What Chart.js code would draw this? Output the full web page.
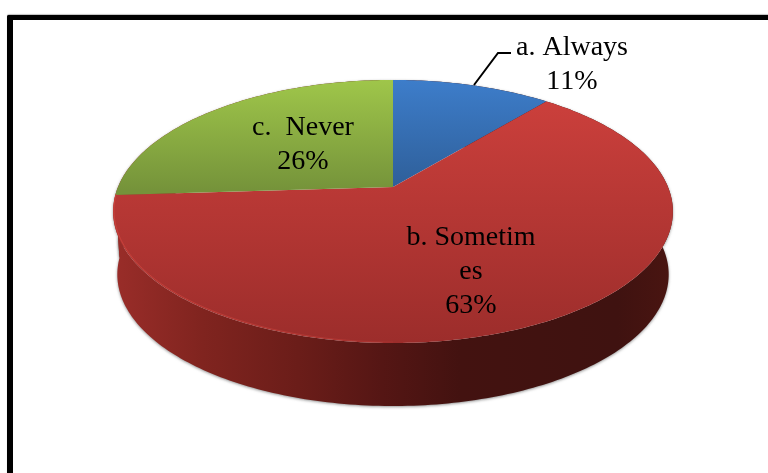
<!DOCTYPE html>
<html>
<head>
<meta charset="utf-8">
<title>Pie</title>
<script src="https://cdn.jsdelivr.net/npm/chart.js@4/dist/chart.umd.min.js"></script>
<style>
  html, body { margin: 0; padding: 0; background: #fff; overflow: hidden; }
  #wrap { position: relative; width: 768px; height: 473px; }
  #frame {
    position: absolute; left: 7px; top: 15px; right: -10px; bottom: -10px;
    border-left: 6px solid #000; border-top: 5px solid #000;
    border-top-left-radius: 2px; box-shadow: 0 -1px 1px rgba(0,0,0,.25);
  }
  canvas { position: absolute; left: 0; top: 0; }
</style>
</head>
<body>
<div id="wrap">
  <div id="frame"></div>
  <canvas id="pieChart" width="768" height="473"></canvas>
</div>
<script>
var CATEGORIES = ["a. Always", "b. Sometimes", "c.  Never"];
var LABEL_LINES = [["a. Always"], ["b. Sometim", "es"], ["c.  Never"]];
var VALUES = [11, 63, 26];
var COLORS = ["#3a76c0", "#b83835", "#8aad42"];

// top face: vertical gradient, one pair of colours per slice
var FACE_STOPS = [
  ["#3d7dca", "#2e5e98"],
  ["#cf413d", "#9c2d2b"],
  ["#9fc64a", "#75933a"]
];
// where each label block is centred, first baseline in px
var LABEL_POS = [[572, 55], [471, 245], [303, 135]];

// tilted disc: perspective factor and scale of the unit circle
var PERSP = 0.186, SCALE_X = 275 / 187, SCALE_Y = 127 / 187;
var DEPTH = 63, STEP = Math.PI / 180;

function project(arc, a, drop, shrink) {
  var x = Math.cos(a), y = Math.sin(a), w = 1 - PERSP * y;
  var s = shrink || 1;
  return {
    x: arc.x + arc.outerRadius * SCALE_X * s * x / w,
    y: arc.y + arc.outerRadius * SCALE_Y * y / w + (drop || 0)
  };
}

function rimPath(ctx, arc, from, to, drop, shrink) {
  var n = Math.ceil(Math.abs(to - from) / STEP);
  for (var i = 0; i <= n; i++) {
    var p = project(arc, from + (to - from) * i / n, drop, shrink);
    ctx.lineTo(p.x, p.y);
  }
}

function drawSide(ctx, arc) {
  var grad = ctx.createLinearGradient(113, 0, 673, 0);
  grad.addColorStop(0, "#9a2d29");
  grad.addColorStop(0.16, "#80241f");
  grad.addColorStop(0.33, "#6b1d19");
  grad.addColorStop(0.48, "#551614");
  grad.addColorStop(0.62, "#431210");
  grad.addColorStop(0.9, "#3f1210");
  grad.addColorStop(1, "#4a1511");
  ctx.save();
  ctx.shadowColor = "rgba(60,60,60,.55)";
  ctx.shadowBlur = 3;
  ctx.shadowOffsetY = 1;
  ctx.fillStyle = grad;
  ctx.beginPath();
  rimPath(ctx, arc, arc.startAngle, arc.endAngle, 0, 1);
  rimPath(ctx, arc, arc.endAngle, arc.startAngle, DEPTH, 0.985);
  ctx.closePath();
  ctx.fill();
  ctx.restore();
}

function drawFace(ctx, arc, stops) {
  var grad = ctx.createLinearGradient(0, 80, 0, stops === FACE_STOPS[1] ? 343 : 190);
  grad.addColorStop(0, stops[0]);
  grad.addColorStop(1, stops[1]);
  ctx.fillStyle = grad;
  ctx.beginPath();
  ctx.moveTo(arc.x, arc.y);
  rimPath(ctx, arc, arc.startAngle, arc.endAngle, 0, 1);
  ctx.closePath();
  ctx.fill();
}

// lighter bevel along the front edge, fades out towards the right
function drawBevel(ctx, arc) {
  var grad = ctx.createLinearGradient(113, 0, 440, 0);
  grad.addColorStop(0, "rgba(212,70,62,.7)");
  grad.addColorStop(0.7, "rgba(205,66,60,.45)");
  grad.addColorStop(1, "rgba(200,60,55,0)");
  ctx.save();
  ctx.strokeStyle = grad;
  ctx.lineWidth = 1;
  ctx.beginPath();
  rimPath(ctx, arc, Math.PI * 0.5, Math.PI * 0.98, -1, 0.997);
  ctx.stroke();
  ctx.restore();
}

var pie3d = {
  id: "pie3d",
  beforeDatasetDraw: function (chart, args) {
    var ctx = chart.ctx, arcs = args.meta.data;
    arcs.forEach(function (arc, i) { if (i !== 1) drawSide(ctx, arc); });
    drawSide(ctx, arcs[1]);
    arcs.forEach(function (arc, i) { drawFace(ctx, arc, FACE_STOPS[i]); });
    drawBevel(ctx, arcs[1]);
    return false;
  },
  afterDraw: function (chart) {
    var ctx = chart.ctx;
    ctx.save();
    ctx.fillStyle = "#000";
    ctx.font = "28px 'Liberation Serif'";
    ctx.fontKerning = "none";
    ctx.textAlign = "center";
    LABEL_LINES.forEach(function (lines, i) {
      var pos = LABEL_POS[i];
      lines.concat(VALUES[i] + "%").forEach(function (txt, k) {
        ctx.fillText(txt, pos[0], pos[1] + k * 34);
      });
    });
    // leader line of the first label
    ctx.strokeStyle = "#000";
    ctx.lineWidth = 2;
    ctx.beginPath();
    ctx.moveTo(474, 85);
    ctx.lineTo(498, 53);
    ctx.lineTo(511, 53);
    ctx.stroke();
    ctx.restore();
  }
};

var pieChart = new Chart(document.getElementById("pieChart").getContext("2d"), {
  type: "pie",
  data: {
    labels: CATEGORIES,
    datasets: [{ data: VALUES, backgroundColor: COLORS, borderWidth: 0 }]
  },
  options: {
    responsive: false,
    animation: false,
    layout: { padding: { left: 18, right: 0, top: 0, bottom: 99 } },
    plugins: { legend: { display: false }, tooltip: { enabled: false } }
  },
  plugins: [pie3d]
});
</script>
</body>
</html>
